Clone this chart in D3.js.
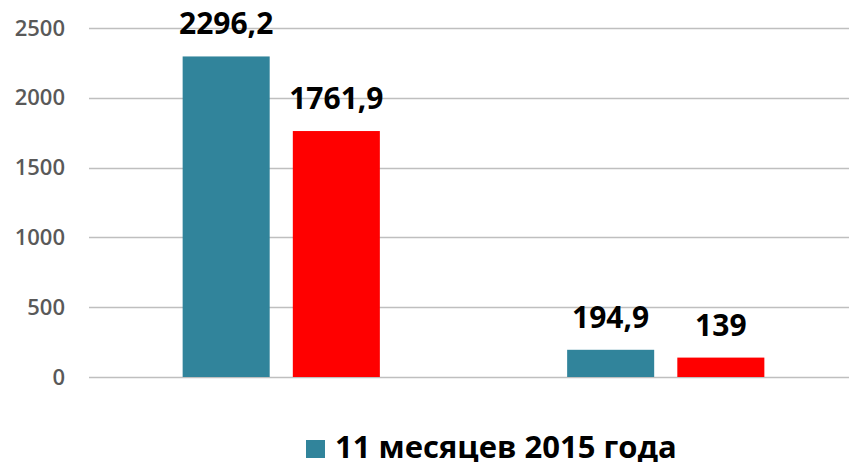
<!DOCTYPE html>
<html>
<head>
<meta charset="utf-8">
<script src="https://cdn.jsdelivr.net/npm/d3@7"></script>
<style>
  body { margin: 0; background: #fff; }
  svg { display: block; }
</style>
</head>
<body>
<div id="chart"></div>
<script>
// data
var categories = ["group1", "group2"];
var seriesNames = ["11 месяцев 2015 года", "11 месяцев 2016 года"];
var seriesColors = ["#31849b", "#ff0000"];
var values2015 = [2296.2, 194.9];
var values2016 = [1761.9, 139];
var valueLabels2015 = ["2296,2", "194,9"];
var valueLabels2016 = ["1761,9", "139"];
var yTicks = [0, 500, 1000, 1500, 2000, 2500];

var width = 849, height = 462;
var plotLeft = 89, plotRight = 858, plotTop = 28, plotBottom = 377;

var svg = d3.select("#chart").append("svg")
	.attr("width", width)
	.attr("height", height);

var y = d3.scaleLinear().domain([0, 2500]).range([plotBottom, plotTop]);
var x0 = d3.scaleBand().domain(categories).range([plotLeft, plotRight]).paddingInner(0).paddingOuter(0);
var x1 = d3.scaleBand().domain([0, 1]).range([0, x0.bandwidth()]).paddingInner(0.21).paddingOuter(0.85);

// gridlines
svg.selectAll(".grid")
	.data(yTicks)
	.enter()
	.append("line")
	.attr("class", "grid")
	.attr("x1", plotLeft)
	.attr("x2", width)
	.attr("y1", function(d) { return Math.round(y(d)) + 0.5; })
	.attr("y2", function(d) { return Math.round(y(d)) + 0.5; })
	.style("stroke", "#bfbfbf")
	.style("stroke-width", "1.5px");

// y axis labels
var yAxis = d3.axisLeft(y).tickValues(yTicks).tickFormat(d3.format("d")).tickSize(0).tickPadding(0);
var gy = svg.append("g")
	.attr("transform", "translate(65,0)")
	.call(yAxis);
gy.select(".domain").remove();
gy.selectAll("text")
	.style("font-family", "'Open Sans', sans-serif")
	.style("font-size", "22px")
	.style("font-weight", "600")
	.attr("fill", "#595959");

var rows = categories.map(function(c, i) {
	return {cat: c, vals: [values2015[i], values2016[i]], labels: [valueLabels2015[i], valueLabels2016[i]]};
});

var groups = svg.selectAll(".grp")
	.data(rows)
	.enter()
	.append("g")
	.attr("class", "grp")
	.attr("transform", function(d) { return "translate(" + x0(d.cat) + ",0)"; });

var bars = groups.selectAll("g.bar")
	.data(function(d) { return d.vals.map(function(v, k) { return {k: k, v: v, label: d.labels[k]}; }); })
	.enter()
	.append("g")
	.attr("class", "bar");

bars.append("rect")
	.attr("x", function(d) { return x1(d.k); })
	.attr("width", x1.bandwidth())
	.attr("y", function(d) { return y(d.v); })
	.attr("height", function(d) { return plotBottom - y(d.v); })
	.attr("fill", function(d) { return seriesColors[d.k]; });

bars.append("text")
	.attr("x", function(d) { return x1(d.k) + x1.bandwidth() / 2; })
	.attr("y", function(d) { return y(d.v) - 22; })
	.attr("text-anchor", "middle")
	.style("font-family", "'Open Sans', sans-serif")
	.style("font-size", "30px")
	.style("font-weight", "bold")
	.attr("fill", "#000")
	.text(function(d) { return d.label; });

// legend (only first entry fits in the frame)
var legend = svg.append("g").attr("transform", "translate(306,440)");
legend.append("rect")
	.attr("width", 19)
	.attr("height", 18)
	.attr("fill", seriesColors[0]);
legend.append("text")
	.attr("x", 29)
	.attr("y", 18)
	.style("font-family", "'Open Sans', sans-serif")
	.style("font-size", "31px")
	.style("font-weight", "bold")
	.attr("fill", "#000")
	.text(seriesNames[0]);
</script>
</body>
</html>
